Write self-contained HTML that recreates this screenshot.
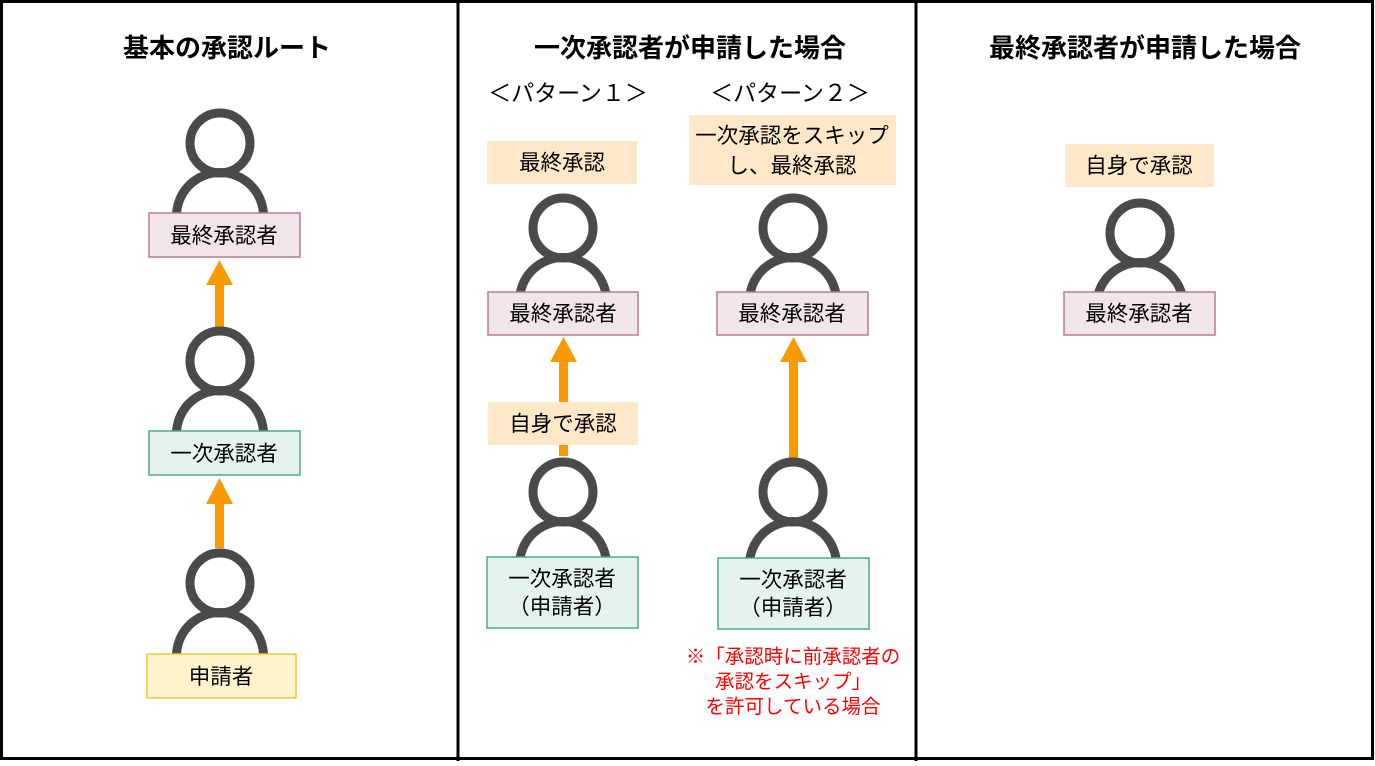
<!DOCTYPE html>
<html><head><meta charset="utf-8"><style>
body{margin:0;background:#fff}
svg text{font-family:"Liberation Sans","Noto Sans CJK JP",sans-serif}
</style></head><body>
<svg width="1375" height="761" viewBox="0 0 1375 761" xmlns="http://www.w3.org/2000/svg">
<defs>
<g id="p"><circle cx="0" cy="0" r="30" fill="none" stroke="#4a4a4a" stroke-width="9"/>
<path d="M-43.5 73 A43.5 43.5 0 0 1 43.5 73" fill="none" stroke="#4a4a4a" stroke-width="9"/></g>
</defs>
<rect x="1.5" y="1.5" width="1371" height="757" fill="#fff" stroke="#000" stroke-width="3"/>
<line x1="458" y1="0" x2="458" y2="761" stroke="#000" stroke-width="3"/>
<line x1="916" y1="0" x2="916" y2="761" stroke="#000" stroke-width="3"/>
<g font-weight="bold" font-size="26" text-anchor="middle">
<text x="227" y="57">基本の承認ルート</text>
<text x="690" y="57">一次承認者が申請した場合</text>
<text x="1145" y="57">最終承認者が申請した場合</text>
</g>
<g font-size="23" text-anchor="middle">
<text x="568" y="101">＜パターン１＞</text>
<text x="790" y="101">＜パターン２＞</text>
</g>
<g fill="#f99b00">
<rect x="215" y="282" width="9" height="45"/><polygon points="219.5,260 206,285 233,285"/>
<rect x="215" y="502" width="9" height="46"/><polygon points="219.5,478 206,504 233,504"/>
<rect x="559" y="360" width="9" height="96"/><polygon points="563.5,337 550,362 577,362"/>
<rect x="789" y="360" width="9" height="98"/><polygon points="793.5,337 780,362 807,362"/>
</g>
<use href="#p" x="220" y="143"/>
<use href="#p" x="220" y="361"/>
<use href="#p" x="220" y="583"/>
<use href="#p" x="563" y="228"/>
<use href="#p" x="563" y="492"/>
<use href="#p" x="793" y="228"/>
<use href="#p" x="793" y="492"/>
<use href="#p" x="1140" y="233"/>
<g fill="#ffe8c8">
<rect x="487" y="141" width="150" height="43"/>
<rect x="689" y="115" width="207" height="70"/>
<rect x="488" y="402" width="150" height="43"/>
<rect x="1065" y="144" width="149" height="43"/>
</g>
<g stroke-width="1.5">
<rect x="149" y="213" width="151" height="44" fill="#f2e5ea" stroke="#b87c95"/>
<rect x="149" y="431" width="151" height="44" fill="#e6f2ee" stroke="#4aaa8a"/>
<rect x="147" y="654" width="149" height="44" fill="#fff2cc" stroke="#f5c542"/>
<rect x="488" y="292" width="150" height="43" fill="#f2e5ea" stroke="#b87c95"/>
<rect x="487" y="557" width="151" height="71" fill="#e6f2ee" stroke="#4aaa8a"/>
<rect x="717" y="292" width="151" height="43" fill="#f2e5ea" stroke="#b87c95"/>
<rect x="718" y="558" width="151" height="71" fill="#e6f2ee" stroke="#4aaa8a"/>
<rect x="1064" y="292" width="151" height="43" fill="#f2e5ea" stroke="#b87c95"/>
</g>
<g font-size="21.5" text-anchor="middle" fill="#000">
<text x="224" y="243">最終承認者</text>
<text x="224" y="461">一次承認者</text>
<text x="221" y="684">申請者</text>
<text x="562" y="170">最終承認</text>
<text x="792" y="143">一次承認をスキップ</text>
<text x="792" y="173">し、最終承認</text>
<text x="563" y="431">自身で承認</text>
<text x="1139" y="173">自身で承認</text>
<text x="563" y="321">最終承認者</text>
<text x="792" y="321">最終承認者</text>
<text x="1139" y="321">最終承認者</text>
<text x="562" y="586">一次承認者</text>
<text x="562" y="614">（申請者）</text>
<text x="793" y="587">一次承認者</text>
<text x="793" y="615">（申請者）</text>
</g>
<g font-size="19.5" text-anchor="middle" fill="#ff0000">
<text x="793" y="663">※「承認時に前承認者の</text>
<text x="793" y="688">承認をスキップ」</text>
<text x="793" y="713">を許可している場合</text>
</g>
</svg>
</body></html>
